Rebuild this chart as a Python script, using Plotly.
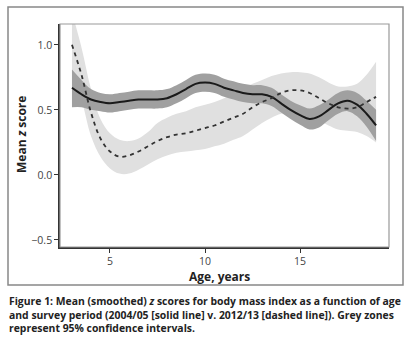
import plotly.graph_objects as go

age = [3.0, 3.5, 4.0, 4.5, 5.0, 5.5, 6.0, 6.5, 7.0, 7.5, 8.0, 8.5, 9.0, 9.5, 10.0, 10.5,
       11.0, 11.5, 12.0, 12.5, 13.0, 13.5, 14.0, 14.5, 15.0, 15.5, 16.0, 16.5, 17.0,
       17.5, 18.0, 18.5, 19.0]

solid = [0.67, 0.62, 0.58, 0.56, 0.55, 0.56, 0.57, 0.58, 0.58, 0.58, 0.59, 0.62, 0.66,
         0.70, 0.71, 0.70, 0.67, 0.65, 0.63, 0.62, 0.62, 0.60, 0.55, 0.50, 0.46, 0.43,
         0.45, 0.50, 0.55, 0.57, 0.54, 0.47, 0.38]
solid_lo = [0.52, 0.52, 0.50, 0.49, 0.48, 0.49, 0.50, 0.51, 0.51, 0.51, 0.52, 0.55, 0.59,
            0.63, 0.64, 0.63, 0.60, 0.58, 0.56, 0.55, 0.55, 0.53, 0.48, 0.43, 0.385, 0.35,
            0.365, 0.42, 0.47, 0.49, 0.45, 0.37, 0.26]
solid_hi = [0.81, 0.73, 0.66, 0.63, 0.62, 0.63, 0.64, 0.65, 0.65, 0.65, 0.66, 0.69, 0.73,
            0.77, 0.78, 0.77, 0.74, 0.72, 0.70, 0.69, 0.69, 0.67, 0.62, 0.57, 0.535, 0.51,
            0.535, 0.58, 0.63, 0.65, 0.63, 0.57, 0.50]

dashed = [1.00, 0.77, 0.48, 0.28, 0.18, 0.14, 0.15, 0.18, 0.22, 0.26, 0.29, 0.31, 0.32,
          0.34, 0.36, 0.38, 0.41, 0.44, 0.47, 0.52, 0.56, 0.59, 0.63, 0.65, 0.65, 0.63,
          0.59, 0.55, 0.52, 0.51, 0.52, 0.56, 0.60]
dashed_lo = [0.78, 0.58, 0.30, 0.14, 0.05, 0.01, 0.01, 0.04, 0.08, 0.12, 0.15, 0.17, 0.18,
             0.19, 0.20, 0.22, 0.24, 0.27, 0.30, 0.35, 0.40, 0.44, 0.47, 0.48, 0.48, 0.46,
             0.42, 0.38, 0.35, 0.34, 0.33, 0.30, 0.25]
dashed_hi = [1.25, 0.98, 0.66, 0.43, 0.32, 0.27, 0.26, 0.28, 0.33, 0.40, 0.44, 0.47, 0.49,
             0.52, 0.54, 0.56, 0.59, 0.62, 0.66, 0.70, 0.73, 0.76, 0.78, 0.79, 0.79, 0.78,
             0.75, 0.71, 0.68, 0.68, 0.70, 0.77, 0.87]

x_ticks = [5, 10, 15]
y_ticks = [-0.5, 0.0, 0.5, 1.0]
y_tick_text = ["\u22120.5", "0.0", "0.5", "1.0"]

caption_lines = [
    "Figure 1: Mean (smoothed) <i>z</i> scores for body mass index as a function of age",
    "and survey period (2004/05 [solid line] v. 2012/13 [dashed line]). Grey zones",
    "represent 95% confidence intervals.",
]

LIGHT = "#e0e0e0"
DARK = "#a0a0a0"

fig = go.Figure()

# light CI band (2012/13)
fig.add_trace(go.Scatter(x=age, y=dashed_hi, mode="lines", line=dict(width=0, shape="spline"),
                         hoverinfo="skip", showlegend=False))
fig.add_trace(go.Scatter(x=age, y=dashed_lo, mode="lines", line=dict(width=0, shape="spline"),
                         fill="tonexty", fillcolor=LIGHT, hoverinfo="skip", showlegend=False))
# dark CI band (2004/05)
fig.add_trace(go.Scatter(x=age, y=solid_hi, mode="lines", line=dict(width=0, shape="spline"),
                         hoverinfo="skip", showlegend=False))
fig.add_trace(go.Scatter(x=age, y=solid_lo, mode="lines", line=dict(width=0, shape="spline"),
                         fill="tonexty", fillcolor=DARK, hoverinfo="skip", showlegend=False))
# lines
fig.add_trace(go.Scatter(x=age, y=solid, mode="lines",
                         line=dict(color="#1a1a1a", width=2, shape="spline"), showlegend=False))
fig.add_trace(go.Scatter(x=age, y=dashed, mode="lines",
                         line=dict(color="#333333", width=1.8, shape="spline", dash="4px,4px"),
                         showlegend=False))

L, R, T, B = 60, 28, 24, 100
W, H = 417, 347
pw, ph = W - L - R, H - T - B

def px(x):
    return (x - L) / pw

def py(y):
    return (H - B - y) / ph

fig.update_layout(
    width=W, height=H,
    margin=dict(l=L, r=R, t=T, b=B),
    paper_bgcolor="white", plot_bgcolor="white",
    font=dict(family="Open Sans, sans-serif", color="#333"),
    xaxis=dict(range=[2.37, 19.68], tickvals=x_ticks, ticks="outside", ticklen=4,
               tickcolor="#333", showgrid=False, zeroline=False, showline=True,
               linecolor="#333", linewidth=1.5, tickfont=dict(size=10.5, color="#444")),
    yaxis=dict(range=[-0.554, 1.16], tickvals=y_ticks, ticktext=y_tick_text,
               ticks="outside", ticklen=4, tickcolor="#333", showgrid=False,
               zeroline=False, showline=True, linecolor="#333", linewidth=1.5,
               tickfont=dict(size=10.5, color="#444")),
    shapes=[
        dict(type="rect", xref="paper", yref="paper", x0=0, x1=1, y0=0, y1=1,
             line=dict(color="#999", width=1.2), layer="above"),
        dict(type="rect", xref="paper", yref="paper", x0=px(8), x1=px(403),
             y0=py(285), y1=py(7), line=dict(color="#888", width=1.5)),
    ],
    annotations=[
        dict(text="<b>Mean <i>z</i> score</b>", xref="paper", yref="paper",
             x=px(21), y=py(135), textangle=-90, showarrow=False,
             font=dict(size=12, color="#222"), xanchor="center", yanchor="middle"),
        dict(text="<b>Age, years</b>", xref="paper", yref="paper",
             x=px(219), y=py(276), showarrow=False,
             font=dict(size=12, color="#222"), xanchor="center", yanchor="middle"),
        dict(text="<br>".join("<b>" + line + "</b>" for line in caption_lines),
             xref="paper", yref="paper", x=px(7), y=py(314), showarrow=False,
             xanchor="left", yanchor="middle", align="left",
             font=dict(size=10.4, color="#222", family="Open Sans, sans-serif")),
    ],
)

fig.write_html("out.html")
